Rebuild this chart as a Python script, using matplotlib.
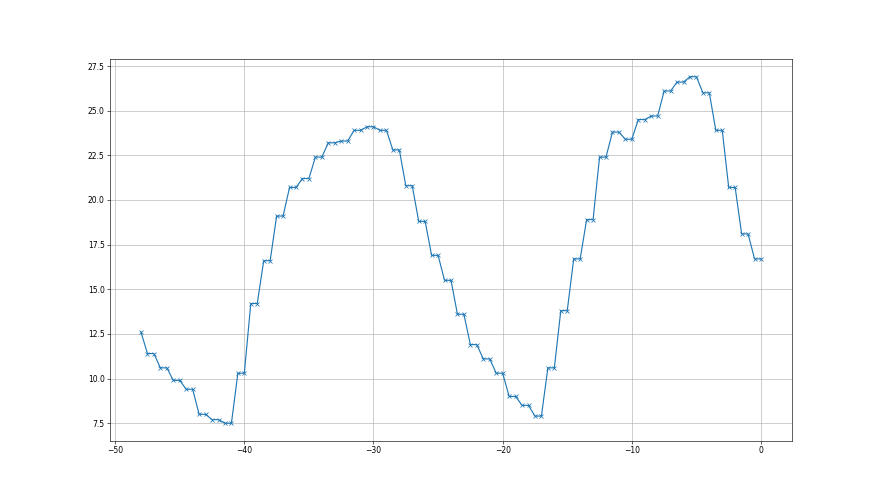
import matplotlib
matplotlib.use("Agg")
import matplotlib.pyplot as plt
import numpy as np

first_x = -48
first_y = 12.6
step_x = list(range(-47, 1))
step_y = [11.4, 10.6, 9.9, 9.4, 8.0, 7.7, 7.5, 10.3, 14.2, 16.6,
          19.1, 20.7, 21.2, 22.4, 23.2, 23.3, 23.9, 24.1, 23.9, 22.8,
          20.8, 18.8, 16.9, 15.5, 13.6, 11.9, 11.1, 10.3, 9.0, 8.5,
          7.9, 10.6, 13.8, 16.7, 18.9, 22.4, 23.8, 23.4, 24.5, 24.7,
          26.1, 26.6, 26.9, 26.0, 23.9, 20.7, 18.1, 16.7]

xs = [first_x]
ys = [first_y]
for x, y in zip(step_x, step_y):
    xs += [x - 0.5, x]
    ys += [y, y]

fig, ax = plt.subplots(figsize=(16, 9), dpi=55)
ax.plot(xs, ys, marker='x', color='#1f77b4')
ax.grid(True)
fig.savefig("out.png", dpi=55)
